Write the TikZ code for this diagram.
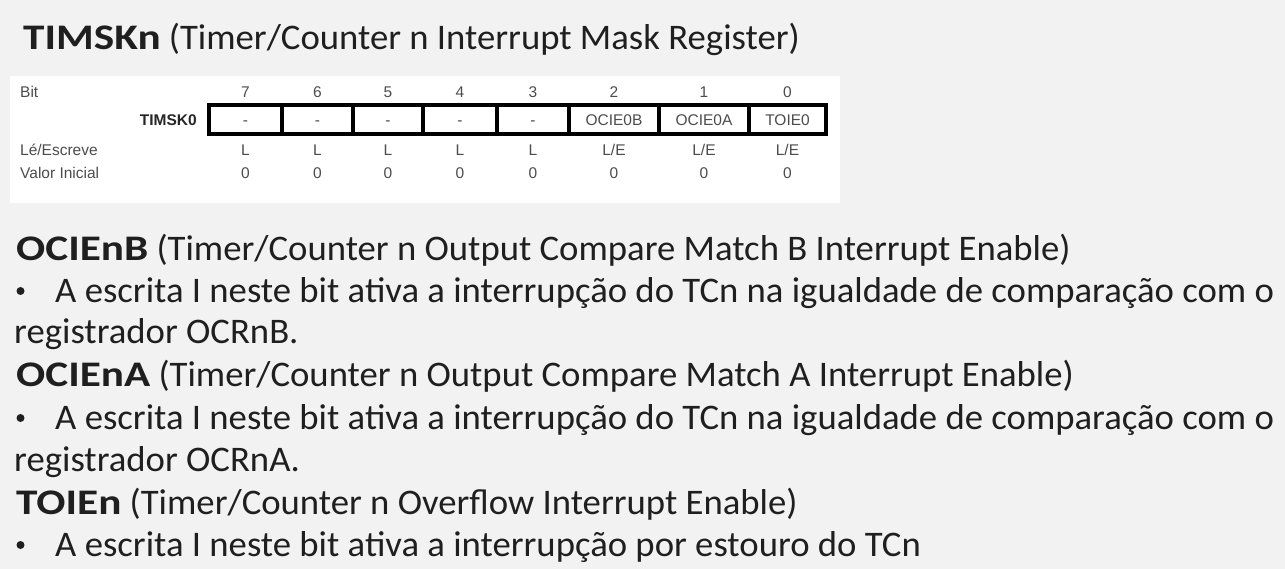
\documentclass[tikz,border=0pt]{standalone}
\usepackage{fontspec}
\setmainfont{Carlito}[FakeStretch=1.02]
\newfontfamily\hd{Carlito}[FakeStretch=1.2]
\newfontfamily\tabfont{Liberation Sans}
\begin{document}
\begin{tikzpicture}[x=1pt,y=-1pt,
  txt/.style={inner sep=0pt,anchor=base west,text=black!88,font=\fontsize{36}{40}\selectfont},
  dot/.style={circle,fill=black!88,inner sep=0pt,minimum size=8pt},
  tab/.style={inner sep=0pt,text=black!70,font=\tabfont\fontsize{15.5}{18}\selectfont},
  cell/.style={draw=black,line width=3.3pt,minimum height=29pt,inner sep=0pt,text height=11.2pt,text depth=0pt,text=black!70,font=\tabfont\fontsize{15.5}{18}\selectfont}]
\useasboundingbox (0,0) rectangle (1285,569);
\fill[black!5] (0,0) rectangle (1285,569);
\fill[white] (10,76) rectangle (840,203);
% title
\node[txt] (title) at (23,50) {{\hd\bfseries TIMSKn} (Timer/Counter n Interrupt Mask Register)};
% table labels
\node[tab,anchor=west] (bit) at (20,92) {Bit};
\node[tab,anchor=west] (le) at (20,150) {Lé/Escreve};
\node[tab,anchor=west] (vi) at (20,173) {Valor Inicial};
\node[tab,anchor=east,text=black!85,font=\tabfont\bfseries\fontsize{15.5}{18}\selectfont] (reg) at (197,120) {TIMSK0};
% cells
\foreach \n/\cx/\w/\t/\a in {7/245.5/73/-/L,6/317.5/71/-/L,5/388/70/-/L,4/460/74/-/L,3/533/72/-/L,2/614/90/OCIE0B/{L/E},1/704/90/OCIE0A/{L/E},0/787.5/77/TOIE0/{L/E}}{
  \node[cell,minimum width=\w pt] (c\n) at (\cx,119.5) {\t};
  \node[tab] (b\n) at (\cx,92) {\n};
  \node[tab] (rw\n) at (\cx,150) {\a};
  \node[tab] (iv\n) at (\cx,173) {0};
}
% body
\node[txt] (h1) at (16,261) {{\hd\bfseries OCIEnB} (Timer/Counter n Output Compare Match B Interrupt Enable)};
\node[dot] (d1b) at (20.5,291) {};
\node[txt] (d1) at (55,302) {A escrita I neste bit ativa a interrupção do TCn na igualdade de comparação com o};
\node[txt] (d1c) at (14,344) {registrador OCRnB.};
\node[txt] (h2) at (16,386) {{\hd\bfseries OCIEnA} (Timer/Counter n Output Compare Match A Interrupt Enable)};
\node[dot] (d2b) at (20.5,418) {};
\node[txt] (d2) at (55,429) {A escrita I neste bit ativa a interrupção do TCn na igualdade de comparação com o};
\node[txt] (d2c) at (14,471) {registrador OCRnA.};
\node[txt] (h3) at (16,514) {{\hd\bfseries TOIEn} (Timer/Counter n Overflow Interrupt Enable)};
\node[dot] (d3b) at (20.5,545) {};
\node[txt] (d3) at (55,556) {A escrita I neste bit ativa a interrupção por estouro do TCn};
\end{tikzpicture}
\end{document}
